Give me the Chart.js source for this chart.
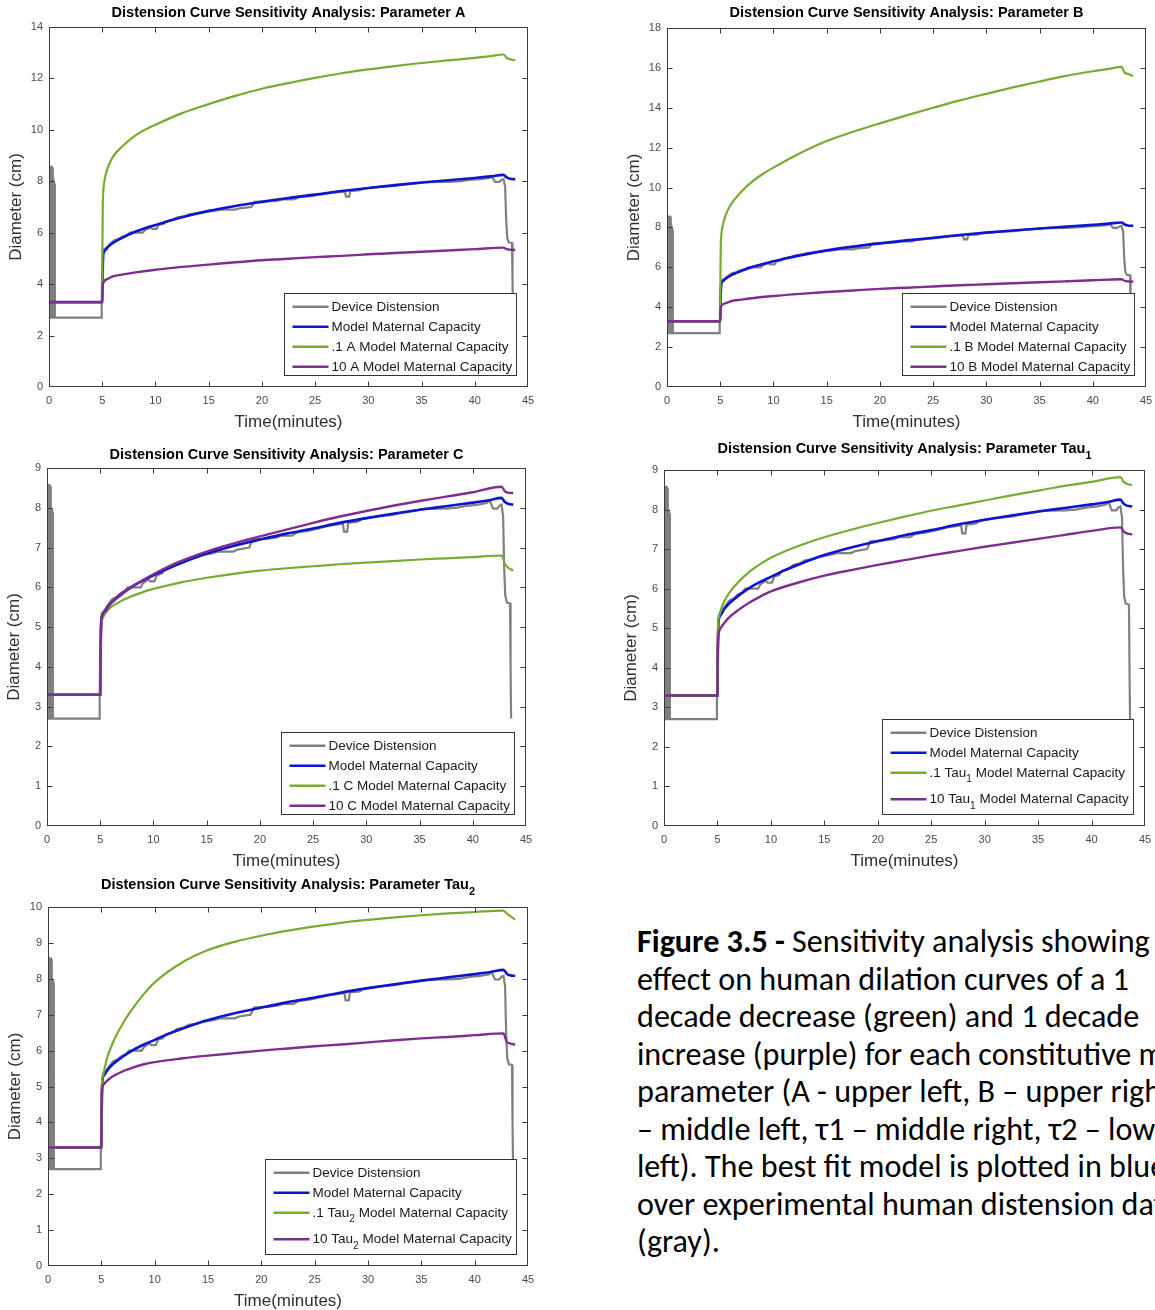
<!DOCTYPE html>
<html>
<head>
<meta charset="utf-8">
<title>Distension Curve Sensitivity Analysis</title>
<script src="https://cdn.jsdelivr.net/npm/chart.js@4.4.1/dist/chart.umd.min.js"></script>
<style>
  html, body { margin: 0; padding: 0; background: #fff; }
  body { position: relative; width: 1155px; height: 1310px; overflow: hidden; }
  canvas { position: absolute; }
  #caption { position: absolute; left: 637px; top: 923px; width: 518px; overflow: hidden;
    font-family: Carlito, Calibri, Lato, sans-serif; font-size: 28px; line-height: 37.5px; color: #000; }
  #caption div { white-space: nowrap; }
</style>
</head>
<body>
<div id="caption">
  <div><span><b>Figure 3.5 -</b> Sensitivity analysis showing</span></div>
  <div><span id="fitLine">effect on human dilation curves of a 1</span></div>
  <div><span>decade decrease (green) and 1 decade</span></div>
  <div><span>increase (purple) for each constitutive model</span></div>
  <div><span>parameter (A - upper left, B – upper right, C</span></div>
  <div><span>– middle left, τ1 – middle right, τ2 – lower</span></div>
  <div><span>left). The best fit model is plotted in blue</span></div>
  <div><span>over experimental human distension data</span></div>
  <div><span>(gray).</span></div>
</div>
<script>
// time (minutes), diameter (cm)
const deviceDistension = [
  [0, 2.8], [0.05, 8.5], [0.1, 2.8], [0.15, 8.6], [0.2, 2.7], [0.25, 8.6], [0.3, 2.8], [0.35, 8.55],
  [0.4, 2.7], [0.45, 8.0], [0.5, 7.9], [0.55, 2.7], [4.9, 2.7], [4.95, 3.1], [5.0, 4.6], [5.05, 5.1],
  [5.15, 5.35], [5.5, 5.45], [5.7, 5.55], [6.1, 5.7], [6.5, 5.75], [6.9, 5.85], [7.3, 5.9], [7.6, 6.0],
  [8.8, 6.0], [9.0, 6.1], [9.5, 6.2], [9.7, 6.15], [10.1, 6.15], [10.3, 6.3], [10.8, 6.35], [11.0, 6.45],
  [11.6, 6.5], [12.1, 6.6], [12.8, 6.65], [13.2, 6.72], [14.0, 6.75], [14.5, 6.8], [15.5, 6.85],
  [16.2, 6.9], [17.5, 6.9], [17.9, 6.95], [19.0, 7.0], [19.3, 7.2], [20.5, 7.22], [21.5, 7.25],
  [22.0, 7.3], [23.0, 7.3], [23.5, 7.38], [24.5, 7.42], [25.5, 7.48], [26.5, 7.55], [27.8, 7.6],
  [27.9, 7.4], [28.2, 7.4], [28.3, 7.62], [29.2, 7.65], [29.6, 7.72], [31.0, 7.78], [32.5, 7.82],
  [33.5, 7.88], [34.5, 7.92], [35.5, 7.97], [37.5, 7.98], [38.5, 8.0], [39.5, 8.05], [40.5, 8.08],
  [41.3, 8.12], [41.6, 8.18], [41.9, 7.98], [42.3, 7.98], [42.5, 8.05], [42.7, 8.08], [42.85, 7.8],
  [42.95, 6.5], [43.05, 5.8], [43.2, 5.62], [43.5, 5.6], [43.55, 4.0], [43.6, 2.7]
]
const modelCapacity = [
  [0, 3.3], [5.0, 3.3], [5.03, 4.2], [5.07, 4.9], [5.12, 5.2], [5.3, 5.33], [5.6, 5.47], [6.0, 5.6],
  [6.5, 5.72], [7, 5.83], [8, 6.02], [9, 6.17], [10, 6.3], [11, 6.43], [12.5, 6.6], [15, 6.85],
  [17.5, 7.04], [20, 7.2], [22.5, 7.35], [25, 7.48], [27.5, 7.62], [30, 7.74], [32.5, 7.85], [35, 7.95],
  [37.5, 8.04], [40, 8.13], [41.5, 8.19], [42.7, 8.25], [43.0, 8.15], [43.3, 8.1], [43.8, 8.08]
]
// 0.1x and 10x parameter runs
const lowA = [
  [0, 3.3], [5, 3.3], [5.02, 5.5], [5.05, 7.0], [5.1, 7.6], [5.2, 8.0], [5.5, 8.5], [6, 8.95], [7, 9.4],
  [8, 9.75], [9, 10.0], [10, 10.2], [12.5, 10.65], [15, 11.0], [17.5, 11.32], [20, 11.6], [22.5, 11.82],
  [25, 12.02], [27.5, 12.2], [30, 12.35], [32.5, 12.48], [35, 12.6], [37.5, 12.7], [40, 12.8],
  [41.5, 12.87], [42.7, 12.93], [43.0, 12.8], [43.3, 12.75], [43.8, 12.7]
]
const highA = [
  [0, 3.3], [5, 3.3], [5.03, 3.8], [5.1, 4.05], [5.5, 4.2], [6, 4.3], [7, 4.38], [8, 4.45], [10, 4.56],
  [12.5, 4.67], [15, 4.76], [17.5, 4.85], [20, 4.93], [22.5, 4.99], [25, 5.05], [27.5, 5.1], [30, 5.16],
  [32.5, 5.21], [35, 5.26], [37.5, 5.31], [40, 5.36], [42.7, 5.42], [43, 5.36], [43.8, 5.33]
]
const lowB = [
  [0, 3.3], [5, 3.3], [5.02, 5.5], [5.05, 7.0], [5.1, 7.6], [5.2, 8.0], [5.5, 8.6], [6, 9.15], [7, 9.8],
  [8, 10.3], [9, 10.68], [10, 11.0], [12.5, 11.72], [15, 12.33], [17.5, 12.8], [20, 13.22], [22.5, 13.62],
  [25, 14.0], [27.5, 14.37], [30, 14.7], [32.5, 15.02], [35, 15.32], [37.5, 15.6], [40, 15.83],
  [41.5, 15.95], [42.7, 16.05], [43.0, 15.75], [43.3, 15.7], [43.8, 15.6]
]
const highB = [
  [0, 3.3], [5, 3.3], [5.03, 3.8], [5.1, 4.05], [5.5, 4.2], [6, 4.3], [7, 4.38], [8, 4.45], [10, 4.56],
  [12.5, 4.67], [15, 4.76], [17.5, 4.84], [20, 4.92], [22.5, 4.98], [25, 5.04], [27.5, 5.1], [30, 5.15],
  [32.5, 5.2], [35, 5.25], [37.5, 5.3], [40, 5.35], [42.7, 5.4], [43, 5.32], [43.8, 5.28]
]
const lowC = [
  [0, 3.3], [5, 3.3], [5.03, 4.4], [5.08, 5.0], [5.2, 5.2], [5.5, 5.35], [6, 5.5], [7, 5.66], [8, 5.78],
  [9, 5.88], [10, 5.96], [12.5, 6.12], [15, 6.24], [17.5, 6.34], [20, 6.42], [22.5, 6.48], [25, 6.53],
  [27.5, 6.58], [30, 6.62], [32.5, 6.66], [35, 6.7], [37.5, 6.73], [40, 6.76], [42.7, 6.8], [43, 6.6],
  [43.3, 6.5], [43.8, 6.42]
]
const highC = [
  [0, 3.3], [5, 3.3], [5.03, 4.3], [5.08, 5.0], [5.15, 5.25], [5.5, 5.4], [6, 5.6], [7, 5.85], [8, 6.02],
  [9, 6.18], [10, 6.33], [12.5, 6.65], [15, 6.9], [17.5, 7.1], [20, 7.28], [22.5, 7.45], [25, 7.62],
  [27.5, 7.78], [30, 7.92], [32.5, 8.05], [35, 8.17], [37.5, 8.28], [40, 8.39], [42.7, 8.53], [43, 8.42],
  [43.3, 8.38], [43.8, 8.37]
]
const lowTau1 = [
  [0, 3.3], [5, 3.3], [5.02, 4.5], [5.07, 5.1], [5.2, 5.35], [5.5, 5.6], [6, 5.85], [7, 6.18], [8, 6.43],
  [9, 6.62], [10, 6.78], [12.5, 7.07], [15, 7.3], [17.5, 7.49], [20, 7.66], [22.5, 7.82], [25, 7.97],
  [27.5, 8.1], [30, 8.23], [32.5, 8.36], [35, 8.48], [37.5, 8.6], [40, 8.7], [42.7, 8.82], [43, 8.7],
  [43.3, 8.65], [43.8, 8.62]
]
const highTau1 = [
  [0, 3.3], [5, 3.3], [5.02, 4.2], [5.07, 4.75], [5.2, 4.95], [5.5, 5.08], [6, 5.25], [7, 5.47], [8, 5.65],
  [9, 5.8], [10, 5.93], [12.5, 6.15], [15, 6.33], [17.5, 6.47], [20, 6.6], [22.5, 6.72], [25, 6.84],
  [27.5, 6.95], [30, 7.06], [32.5, 7.16], [35, 7.26], [37.5, 7.36], [40, 7.46], [42.7, 7.55], [43, 7.45],
  [43.3, 7.4], [43.8, 7.37]
]
const lowTau2 = [
  [0, 3.3], [5, 3.3], [5.02, 4.5], [5.07, 5.1], [5.2, 5.35], [5.5, 5.75], [6, 6.17], [7, 6.75], [8, 7.2],
  [9, 7.58], [10, 7.9], [12.5, 8.44], [15, 8.8], [17.5, 9.03], [20, 9.2], [22.5, 9.34], [25, 9.46],
  [27.5, 9.56], [30, 9.64], [32.5, 9.71], [35, 9.77], [37.5, 9.82], [40, 9.86], [42.7, 9.9], [43, 9.82],
  [43.3, 9.75], [43.8, 9.65]
]
const highTau2 = [
  [0, 3.3], [5, 3.3], [5.02, 4.3], [5.07, 4.9], [5.2, 5.05], [5.5, 5.15], [6, 5.27], [7, 5.42], [8, 5.53],
  [9, 5.62], [10, 5.68], [12.5, 5.78], [15, 5.86], [17.5, 5.93], [20, 6.0], [22.5, 6.06], [25, 6.12],
  [27.5, 6.17], [30, 6.23], [32.5, 6.29], [35, 6.34], [37.5, 6.38], [40, 6.43], [42.7, 6.48], [43, 6.25],
  [43.3, 6.2], [43.8, 6.17]
]

const font = '"Liberation Sans", Arial, Helvetica, sans-serif'
const colors = { gray: '#808080', blue: '#0c16cf', green: '#77ac30', purple: '#7e2f8e' }

// box = plot area [left, top, right, bottom] in page pixels
const panels = [
  { name: 'A', box: [49, 27, 528, 387], yMax: 14, yStep: 2, low: lowA, high: highA, titleGap: 14 },
  { name: 'B', box: [667, 28, 1146, 387], yMax: 18, yStep: 2, low: lowB, high: highB, titleGap: 15 },
  { name: 'C', box: [47, 468, 526, 826], yMax: 9, yStep: 1, low: lowC, high: highC, titleGap: 13 },
  { name: 'Tau_1', box: [664, 470, 1145, 826], yMax: 9, yStep: 1, low: lowTau1, high: highTau1, titleGap: 21.5 },
  { name: 'Tau_2', box: [48, 907, 528, 1266], yMax: 10, yStep: 1, low: lowTau2, high: highTau2, titleGap: 22 }
]

const toXY = (pts) => pts.map(([x, y]) => ({ x, y }))

// split "Tau_1" style text into normal / subscript pieces
const pieces = (text) => text.split(/_(\d)/).map((t, i) => ({ t, sub: i % 2 == 1 })).filter(s => s.t)

const richWidth = (ctx, text, size, weight) => {
  let w = 0
  pieces(text).forEach(s => {
    ctx.font = `${weight} ${s.sub ? size * 0.75 : size}px ${font}`
    w += ctx.measureText(s.t).width
  })
  return w
}

const drawRich = (ctx, text, x, y, size, weight) => {
  ctx.textBaseline = 'middle'
  ctx.textAlign = 'left'
  pieces(text).forEach(s => {
    ctx.font = `${weight} ${s.sub ? size * 0.75 : size}px ${font}`
    ctx.fillText(s.t, x, s.sub ? y + size * 0.5 : y)
    x += ctx.measureText(s.t).width
  })
}

const matlabLook = {
  id: 'matlabLook',
  afterDatasetsDraw(chart) {
    const { ctx, chartArea: a, scales: { x, y } } = chart
    const L = Math.round(a.left) + 0.5, R = Math.round(a.right) - 0.5
    const T = Math.round(a.top) + 0.5, B = Math.round(a.bottom) - 0.5
    ctx.save()
    ctx.strokeStyle = '#3a3a3a'
    ctx.lineWidth = 1
    ctx.strokeRect(L, T, R - L, B - T)
    ctx.beginPath()
    x.ticks.forEach(t => {
      const px = Math.round(x.getPixelForValue(t.value)) + 0.5
      if (px <= L + 1 || px >= R - 1) return
      ctx.moveTo(px, B); ctx.lineTo(px, B - 5)
      ctx.moveTo(px, T); ctx.lineTo(px, T + 5)
    })
    y.ticks.forEach(t => {
      const py = Math.round(y.getPixelForValue(t.value)) + 0.5
      if (py <= T + 1 || py >= B - 1) return
      ctx.moveTo(L, py); ctx.lineTo(L + 5, py)
      ctx.moveTo(R, py); ctx.lineTo(R - 5, py)
    })
    ctx.stroke()
    ctx.restore()
  },
  afterDraw(chart, args, opts) {
    const { ctx, chartArea: a } = chart
    ctx.save()
    // title
    const title = 'Distension Curve Sensitivity Analysis: Parameter ' + opts.name
    const tw = richWidth(ctx, title, 14.5, 'bold')
    ctx.fillStyle = '#000'
    drawRich(ctx, title, (a.left + a.right) / 2 - tw / 2, a.top - opts.titleGap, 14.5, 'bold')

    // legend box, bottom right inside the axes
    const sets = chart.data.datasets
    const size = 13.5
    const maxW = Math.max(...sets.map(d => richWidth(ctx, d.label, size, 'normal')))
    const rows = []
    let yy = 13.3
    sets.forEach(d => {
      rows.push(yy)
      yy += 20 + (d.label.includes('_') ? 6.5 : 0)
    })
    const hasSub = sets[sets.length - 1].label.includes('_')
    const boxH = rows[rows.length - 1] + (hasSub ? 16 : 9.7)
    const boxW = 47 + maxW + 5
    const right = Math.round(a.right - 12) + 0.5
    const bottom = Math.round(a.bottom - 12) + 0.5
    const left = Math.round(right - boxW) + 0.5
    const top = Math.round(bottom - boxH) + 0.5
    ctx.fillStyle = '#fff'
    ctx.fillRect(left, top, right - left, bottom - top)
    ctx.strokeStyle = '#333'
    ctx.lineWidth = 1
    ctx.strokeRect(left, top, right - left, bottom - top)
    sets.forEach((d, i) => {
      const ry = top + rows[i]
      ctx.strokeStyle = d.borderColor
      ctx.lineWidth = 2.6
      ctx.beginPath()
      ctx.moveTo(left + 8, ry)
      ctx.lineTo(left + 44, ry)
      ctx.stroke()
      ctx.fillStyle = '#1a1a1a'
      drawRich(ctx, d.label, left + 47, ry, size, 'normal')
    })
    ctx.restore()
  }
}

const makeConfig = (p) => {
  const tag = p.name
  const smooth = { cubicInterpolationMode: 'monotone' }
  return {
    type: 'line',
    data: {
      datasets: [
        { label: 'Device Distension', data: toXY(deviceDistension), borderColor: colors.gray, borderWidth: 2.2, order: 4 },
        { label: 'Model Maternal Capacity', data: toXY(modelCapacity), borderColor: colors.blue, borderWidth: 2.6, order: 3, ...smooth },
        { label: '.1 ' + tag + ' Model Maternal Capacity', data: toXY(p.low), borderColor: colors.green, borderWidth: 2.2, order: 2, ...smooth },
        { label: '10 ' + tag + ' Model Maternal Capacity', data: toXY(p.high), borderColor: colors.purple, borderWidth: 2.4, order: 1, ...smooth }
      ]
    },
    options: {
      responsive: false,
      animation: false,
      devicePixelRatio: 1,
      layout: { padding: { top: 30, right: 14, left: 0, bottom: 0 } },
      elements: { point: { radius: 0 }, line: { tension: 0, fill: false } },
      plugins: {
        legend: { display: false },
        tooltip: { enabled: false },
        matlabLook: { name: p.name, titleGap: p.titleGap }
      },
      scales: {
        x: {
          type: 'linear', min: 0, max: 45,
          ticks: { stepSize: 5, color: '#4a4a4a', font: { family: font, size: 11 }, padding: 7, maxRotation: 0 },
          grid: { display: false, drawTicks: false },
          border: { display: false },
          title: { display: true, text: 'Time(minutes)', color: '#303030', font: { family: font, size: 17, lineHeight: 1.2 }, padding: { top: 0, bottom: 4.8 } },
          afterFit: (s) => { s.height = 50 }
        },
        y: {
          type: 'linear', min: 0, max: p.yMax,
          ticks: { stepSize: p.yStep, color: '#4a4a4a', font: { family: font, size: 11 }, padding: 6 },
          grid: { display: false, drawTicks: false },
          border: { display: false },
          title: { display: true, text: 'Diameter (cm)', color: '#303030', font: { family: font, size: 17, lineHeight: 1.2 }, padding: { top: 6.8, bottom: 0 } },
          afterFit: (s) => { s.width = 50 }
        }
      }
    },
    plugins: [matlabLook]
  }
}

panels.forEach((p) => {
  const [l, t, r, b] = p.box
  const canvas = document.createElement('canvas')
  canvas.width = r - l + 64
  canvas.height = b - t + 80
  canvas.style.left = (l - 50) + 'px'
  canvas.style.top = (t - 30) + 'px'
  document.body.appendChild(canvas)
  new Chart(canvas, makeConfig(p))
})

// caption: size the font so the second line spans the same width as in the figure
const caption = document.getElementById('caption')
const fitLine = document.getElementById('fitLine')
const w = fitLine.getBoundingClientRect().width
caption.style.fontSize = (28 * 492 / w).toFixed(2) + 'px'
</script>
</body>
</html>
